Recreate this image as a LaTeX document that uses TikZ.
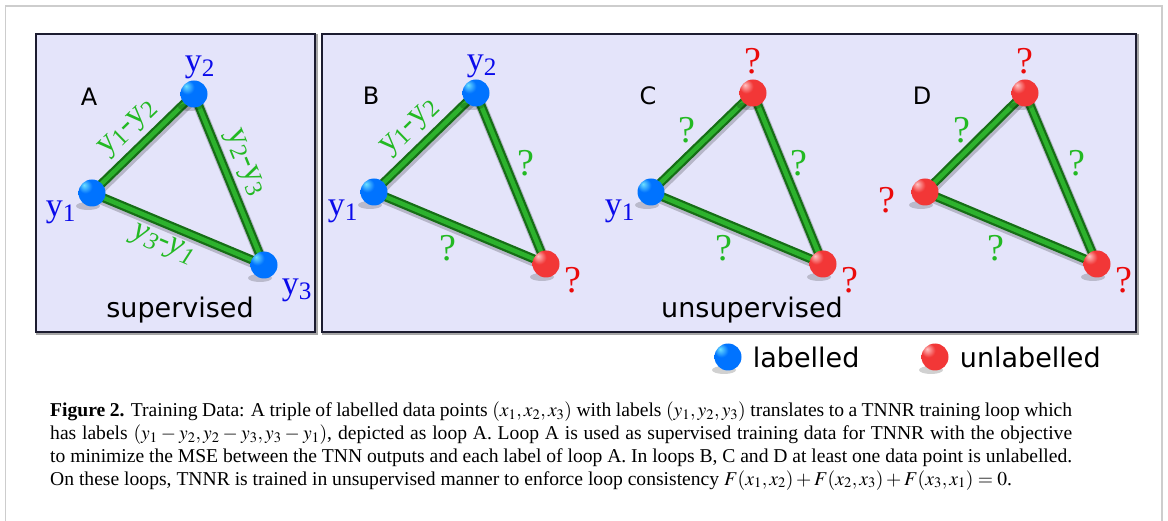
\documentclass[tikz,border=0pt]{standalone}
\usepackage{mathptmx}
\usepackage{fontspec}
\setmainfont{Liberation Serif}
\newfontfamily\labelsans{DejaVu Sans}
\usetikzlibrary{positioning}

\definecolor{panelfill}{RGB}{228,228,250}
\definecolor{panelline}{RGB}{28,28,48}
\definecolor{framegray}{RGB}{205,205,205}
\definecolor{edgedark}{RGB}{22,110,22}
\definecolor{edgelight}{RGB}{45,178,45}
\definecolor{labgreen}{RGB}{35,185,35}
\definecolor{labblue}{RGB}{10,10,235}
\definecolor{labred}{RGB}{235,10,10}
\definecolor{bluehi}{RGB}{110,225,255}
\definecolor{bluemid}{RGB}{0,115,255}
\definecolor{bluelow}{RGB}{0,25,175}
\definecolor{redhi}{RGB}{255,195,195}
\definecolor{redmid}{RGB}{242,55,55}
\definecolor{redlow}{RGB}{165,0,0}

\pgfdeclareradialshading{blueball}{\pgfpoint{-15bp}{15bp}}{color(0bp)=(bluehi); color(13bp)=(bluemid); color(40bp)=(bluemid); color(66bp)=(bluelow); color(80bp)=(bluelow)}
\pgfdeclareradialshading{redball}{\pgfpoint{-15bp}{15bp}}{color(0bp)=(redhi); color(13bp)=(redmid); color(40bp)=(redmid); color(66bp)=(redlow); color(80bp)=(redlow)}

\pgfdeclarelayer{back}
\pgfdeclarelayer{edges}
\pgfsetlayers{back,edges,main}

\begin{document}
\begin{tikzpicture}[x=1pt, y=-1pt,
  panel/.style={draw=panelline, line width=2.6, fill=panelfill,
    preaction={draw=black!35, line width=2.6, transform canvas={shift={(1.6pt,-1.6pt)}}}},
  labelled/.style={circle, inner sep=0, minimum size=27, shading=blueball},
  unlabelled/.style={circle, inner sep=0, minimum size=27, shading=redball},
  ballshadow/.style={fill=black, opacity=.18},
  loopedge/.style={line width=9, draw=edgedark,
    preaction={draw=black, opacity=.2, line width=11, transform canvas={shift={(1pt,-2.5pt)}}},
    postaction={draw=edgelight, line width=4.5}},
  edgelabel/.style={text=labgreen, inner sep=5pt, font=\fontsize{33}{33}\selectfont},
  bluelab/.style={text=labblue, inner sep=0, font=\fontsize{34}{34}\selectfont},
  qgreen/.style={text=labgreen, inner sep=0, font=\fontsize{38}{38}\selectfont},
  qred/.style={text=labred, inner sep=0, font=\fontsize{38}{38}\selectfont},
  looptag/.style={inner sep=0, font=\labelsans\fontsize{24}{24}\selectfont},
  sanstext/.style={inner sep=0, font=\labelsans\fontsize{27}{27}\selectfont}]
\useasboundingbox (0,0) rectangle (1168,521);
\begin{pgfonlayer}{back}
\fill[white] (0,0) rectangle (1168,521);
\draw[framegray, line width=1.5] (5.5,521) -- (5.5,6) -- (1162,6) -- (1162,521);
\draw[panel] (36,34) rectangle (315,332);
\draw[panel] (322,34) rectangle (1136,332);
\end{pgfonlayer}

% loop A: all labelled
\begin{scope}[shift={(92,193)}]
\node[labelled] (a1) at (0,0) {};
\node[labelled] (a2) at (102,-99) {};
\node[labelled] (a3) at (172,72) {};
\node[looptag] (tagA) at (-3,-96) {A};
\node[bluelab] (ya1) at (-31,19) {y\textsubscript{1}};
\node[bluelab] (ya2) at (108,-126) {y\textsubscript{2}};
\node[bluelab] (ya3) at (205,97) {y\textsubscript{3}};
\begin{pgfonlayer}{edges}
\draw[loopedge] (a1.center) -- node[edgelabel, sloped, above] (da12) {y\textsubscript{1}-y\textsubscript{2}} (a2.center);
\draw[loopedge] (a2.center) -- node[edgelabel, sloped, above, pos=.45] (da23) {y\textsubscript{2}-y\textsubscript{3}} (a3.center);
\draw[loopedge] (a1.center) -- node[edgelabel, sloped, below, pos=.46] (da31) {\textit{y\textsubscript{3}-y\textsubscript{1}}} (a3.center);
\foreach \b in {a1,a2,a3}
  \fill[ballshadow] ([shift={(-4pt,-13pt)}]\b.center) ellipse [x radius=12pt, y radius=4pt];
\end{pgfonlayer}
\end{scope}
\node[sanstext] (sup) at (180,310) {supervised};

% loop B: one point unlabelled
\begin{scope}[shift={(374,192)}]
\node[labelled] (b1) at (0,0) {};
\node[labelled] (b2) at (102,-99) {};
\node[unlabelled] (b3) at (172,72) {};
\node[looptag] (tagB) at (-3,-96) {B};
\node[bluelab] (yb1) at (-31,19) {y\textsubscript{1}};
\node[bluelab] (yb2) at (108,-126) {y\textsubscript{2}};
\node[qred] (qb3) at (199,88) {?};
\node[qgreen] (eb23) at (152,-29) {?};
\node[qgreen] (eb31) at (74,56) {?};
\begin{pgfonlayer}{edges}
\draw[loopedge] (b1.center) -- node[edgelabel, sloped, above] (db12) {y\textsubscript{1}-y\textsubscript{2}} (b2.center);
\draw[loopedge] (b2.center) -- (b3.center);
\draw[loopedge] (b1.center) -- (b3.center);
\foreach \b in {b1,b2,b3}
  \fill[ballshadow] ([shift={(-4pt,-13pt)}]\b.center) ellipse [x radius=12pt, y radius=4pt];
\end{pgfonlayer}
\end{scope}

% loop C: two points unlabelled
\begin{scope}[shift={(651,192)}]
\node[labelled] (c1) at (0,0) {};
\node[unlabelled] (c2) at (102,-99) {};
\node[unlabelled] (c3) at (172,72) {};
\node[looptag] (tagC) at (-3,-96) {C};
\node[bluelab] (yc1) at (-31,19) {y\textsubscript{1}};
\node[qred] (qc2) at (102,-131) {?};
\node[qred] (qc3) at (199,88) {?};
\node[qgreen] (ec12) at (36,-62) {?};
\node[qgreen] (ec23) at (148,-29) {?};
\node[qgreen] (ec31) at (73,56) {?};
\begin{pgfonlayer}{edges}
\draw[loopedge] (c1.center) -- (c2.center);
\draw[loopedge] (c2.center) -- (c3.center);
\draw[loopedge] (c1.center) -- (c3.center);
\foreach \b in {c1,c2,c3}
  \fill[ballshadow] ([shift={(-4pt,-13pt)}]\b.center) ellipse [x radius=12pt, y radius=4pt];
\end{pgfonlayer}
\end{scope}
\node[sanstext] (unsup) at (752,310) {unsupervised};

% loop D: no point labelled
\begin{scope}[shift={(925,192)}]
\node[unlabelled] (d1) at (0,0) {};
\node[unlabelled] (d2) at (100,-99) {};
\node[unlabelled] (d3) at (172,72) {};
\node[looptag] (tagD) at (-3,-96) {D};
\node[qred] (qd1) at (-38,8) {?};
\node[qred] (qd2) at (100,-131) {?};
\node[qred] (qd3) at (199,88) {?};
\node[qgreen] (ed12) at (37,-62) {?};
\node[qgreen] (ed23) at (152,-29) {?};
\node[qgreen] (ed31) at (71,56) {?};
\begin{pgfonlayer}{edges}
\draw[loopedge] (d1.center) -- (d2.center);
\draw[loopedge] (d2.center) -- (d3.center);
\draw[loopedge] (d1.center) -- (d3.center);
\foreach \b in {d1,d2,d3}
  \fill[ballshadow] ([shift={(-4pt,-13pt)}]\b.center) ellipse [x radius=12pt, y radius=4pt];
\end{pgfonlayer}
\end{scope}

% key
\node[labelled] (keyl) at (728,357) {};
\node[sanstext, right=11pt of keyl] (keyltext) {labelled};
\node[unlabelled] (keyu) at (935,357) {};
\node[sanstext, right=11pt of keyu] (keyutext) {unlabelled};
\begin{pgfonlayer}{edges}
\foreach \b in {keyl,keyu}
  \fill[ballshadow] ([shift={(-4pt,-13pt)}]\b.center) ellipse [x radius=12pt, y radius=4pt];
\end{pgfonlayer}

% caption
\node[anchor=north west, inner sep=0, text width=1022pt, align=justify,
  font=\fontsize{19.6}{22.7}\selectfont] (caption) at (50,402)
{\textbf{Figure 2.} Training Data: A triple of labelled data points $(x_1,x_2,x_3)$ with labels $(y_1,y_2,y_3)$ translates to a TNNR training loop which\linebreak
has labels $(y_1-y_2,y_2-y_3,y_3-y_1)$, depicted as loop A. Loop A is used as supervised training data for TNNR with the objective\linebreak
to minimize the MSE between the TNN outputs and each label of loop A. In loops B, C and D at least one data point is unlabelled.\linebreak
On these loops, TNNR is trained in unsupervised manner to enforce loop consistency $F(x_1,x_2)+F(x_2,x_3)+F(x_3,x_1)=0$.};
\end{tikzpicture}
\end{document}
